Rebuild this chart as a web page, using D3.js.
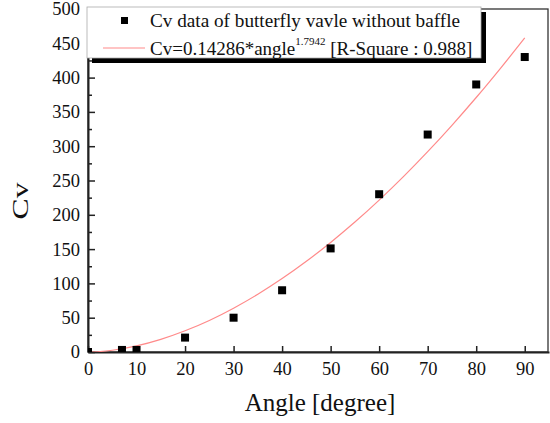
<!DOCTYPE html>
<html>
<head>
<meta charset="utf-8">
<script src="https://cdn.jsdelivr.net/npm/d3@7"></script>
<style>
  body { margin: 0; background: #fff; }
  text { font-family: "Liberation Serif", "Times New Roman", serif; fill: #111; }
</style>
</head>
<body>
<svg id="chart"></svg>
<script>
// measured data
const angles = [0, 7, 10, 20, 30, 40, 50, 60, 70, 80, 90];
const cvValues = [0, 3, 3, 21, 50, 90, 151, 230, 317, 390, 430];

// fitted curve
const fitAngles = [0, 2.5, 5, 10, 15, 20, 25, 30, 35, 40, 45, 50, 55, 60, 65, 70, 75, 80, 85, 90];
const fitValues = [0, 0.74, 2.56, 8.89, 18.4, 30.9, 46.0, 63.9, 84.2, 107.0, 132.2, 159.7, 189.4, 221.4, 255.6, 292.0, 330.5, 371.0, 413.6, 458.0];

const xTicks = [0, 10, 20, 30, 40, 50, 60, 70, 80, 90];
const yTicks = [0, 50, 100, 150, 200, 250, 300, 350, 400, 450, 500];

const width = 550;
const height = 423;
const margin = {left: 88, right: 1, top: 9, bottom: 71};

const svg = d3.select("#chart")
  .attr("width", width)
  .attr("height", height);

const x = d3.scaleLinear().domain([0, 95]).range([margin.left, width - margin.right]);
const y = d3.scaleLinear().domain([0, 500]).range([height - margin.bottom, margin.top]);

svg.append("defs").append("clipPath")
  .attr("id", "plotclip")
  .append("rect")
  .attr("x", x(0)).attr("y", y(500))
  .attr("width", x(95) - x(0)).attr("height", y(0) - y(500));

// frame
svg.append("rect")
  .attr("x", x(0)).attr("y", y(500))
  .attr("width", x(95) - x(0) - 1).attr("height", y(0) - y(500))
  .attr("fill", "none")
  .attr("stroke", "#333")
  .attr("stroke-width", 1.3);

// x axis, ticks pointing inside
const xAxis = svg.append("g")
  .attr("transform", `translate(0,${y(0)})`)
  .call(d3.axisBottom(x).tickValues(xTicks).tickSizeInner(-6).tickSizeOuter(0));
xAxis.select(".domain").attr("stroke", "#222").attr("stroke-width", 2);
xAxis.selectAll(".tick line").attr("stroke", "#222").attr("stroke-width", 1.5);
xAxis.selectAll("text").style("font-size", "18.5px").attr("y", 23).attr("dy", 0);

// y axis: minor ticks every 25
const yMinor = svg.append("g")
  .attr("transform", `translate(${x(0)},0)`)
  .call(d3.axisLeft(y).tickValues(d3.range(25, 500, 50)).tickSize(-4).tickFormat(""));
yMinor.select(".domain").remove();
yMinor.selectAll(".tick line").attr("stroke", "#222").attr("stroke-width", 1.5);

const yAxis = svg.append("g")
  .attr("transform", `translate(${x(0)},0)`)
  .call(d3.axisLeft(y).tickValues(yTicks).tickSizeInner(-7).tickSizeOuter(0).tickPadding(8));
yAxis.select(".domain").attr("stroke", "#222").attr("stroke-width", 2);
yAxis.selectAll(".tick line").attr("stroke", "#222").attr("stroke-width", 1.5);
yAxis.selectAll("text").style("font-size", "18.5px").attr("x", -8);

// fit line
const fit = fitAngles.map((a, i) => ({a: a, v: fitValues[i]}));
svg.append("path")
  .datum(fit)
  .attr("clip-path", "url(#plotclip)")
  .attr("fill", "none")
  .attr("stroke", "#ff8a8a")
  .attr("stroke-width", 1.2)
  .attr("d", d3.line().x(d => x(d.a)).y(d => y(d.v)).curve(d3.curveMonotoneX));

// data squares
const pts = angles.map((a, i) => ({a: a, v: cvValues[i]}));
svg.append("g")
  .attr("clip-path", "url(#plotclip)")
  .selectAll("rect")
  .data(pts)
  .enter().append("rect")
  .attr("x", d => x(d.a) - 4)
  .attr("y", d => y(d.v) - 4)
  .attr("width", 8)
  .attr("height", 8)
  .attr("fill", "#000");

// axis titles
svg.append("text")
  .attr("x", 320)
  .attr("y", 411)
  .attr("text-anchor", "middle")
  .style("font-size", "25px")
  .text("Angle [degree]");

svg.append("text")
  .attr("transform", `translate(28,201) rotate(-90)`)
  .attr("text-anchor", "middle")
  .style("font-size", "24px")
  .attr("textLength", 37)
  .attr("lengthAdjust", "spacingAndGlyphs")
  .text("Cv");

// legend with drop shadow
const lg = svg.append("g");
lg.append("rect")
  .attr("x", 92).attr("y", 12).attr("width", 394).attr("height", 51)
  .attr("fill", "#000");
lg.append("rect")
  .attr("x", 87).attr("y", 7).attr("width", 394).attr("height", 51)
  .attr("fill", "#fff").attr("stroke", "#aaa").attr("stroke-width", 0.8);

lg.append("rect")
  .attr("x", 121).attr("y", 17).attr("width", 7).attr("height", 7)
  .attr("fill", "#000");
lg.append("line")
  .attr("x1", 103).attr("x2", 145).attr("y1", 48).attr("y2", 48)
  .attr("stroke", "#ff8a8a").attr("stroke-width", 1.2);

lg.append("text")
  .attr("x", 150).attr("y", 27)
  .style("font-size", "19px")
  .attr("textLength", 310)
  .attr("lengthAdjust", "spacingAndGlyphs")
  .text("Cv data of butterfly vavle without baffle");

const t2 = lg.append("text")
  .attr("x", 150).attr("y", 55)
  .style("font-size", "19px");
t2.append("tspan").text("Cv=0.14286*angle");
t2.append("tspan").attr("dy", -10).style("font-size", "11px").text("1.7942");
t2.append("tspan").attr("dy", 10).text(" [R-Square : 0.988]");
</script>
</body>
</html>
